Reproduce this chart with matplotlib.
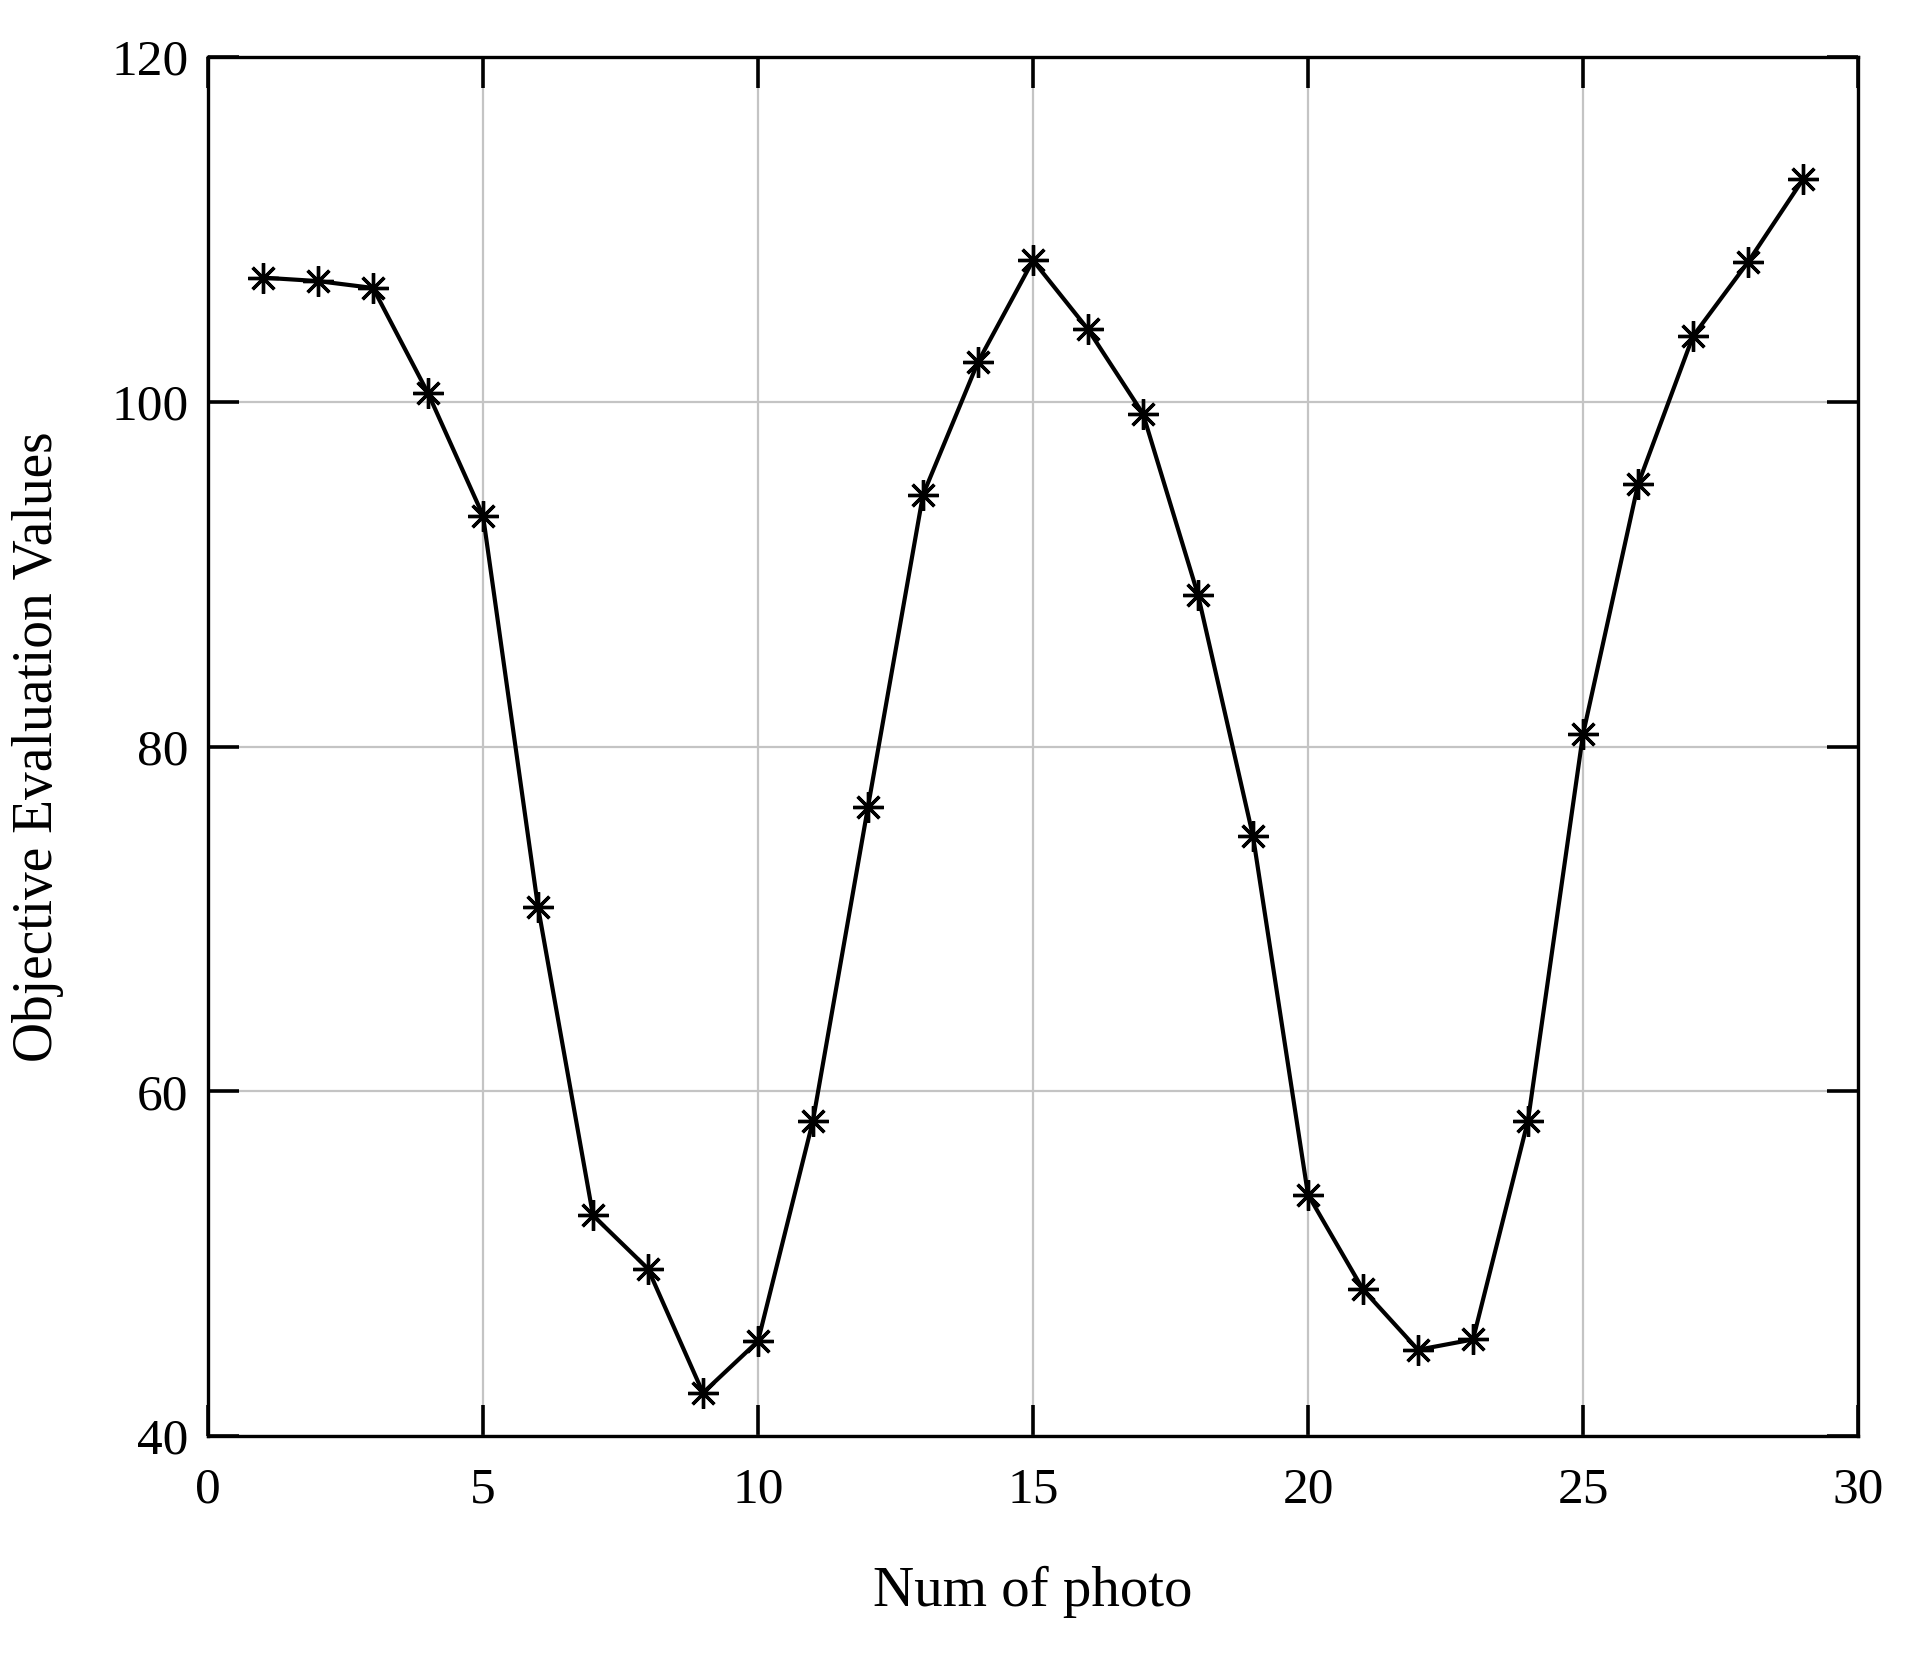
# objective evaluation values per photo
import matplotlib.pyplot as plt

photo_num = list(range(1, 30))
eval_values = [107.2, 107.0, 106.6, 100.5, 93.4, 70.7, 52.8, 49.7, 42.5, 45.5,
               58.3, 76.5, 94.6, 102.3, 108.2, 104.2, 99.3, 88.8, 74.8, 54.0,
               48.5, 45.0, 45.6, 58.3, 80.7, 95.2, 103.8, 108.1, 112.9]

x_ticks = [0, 5, 10, 15, 20, 25, 30]
y_ticks = [40, 60, 80, 100, 120]

plt.rcParams['font.family'] = ['Liberation Serif', 'DejaVu Serif']

fig = plt.figure(figsize=(19.1, 16.55), dpi=100)
ax = fig.add_axes([208 / 1910, 1 - 1436 / 1655, 1650 / 1910, 1379 / 1655])

ax.plot(photo_num, eval_values, color='black', linewidth=3.0,
        marker=(8, 2, 0), markersize=22, markeredgewidth=2.4)

ax.set_xlim(0, 30)
ax.set_ylim(40, 120)
ax.set_xticks(x_ticks)
ax.set_yticks(y_ticks)
ax.grid(True, color='#c4c4c4', linewidth=1.6)
ax.set_axisbelow(True)

ax.tick_params(direction='in', length=22, width=2.6, labelsize=37,
               top=True, right=True)
ax.tick_params(axis='x', pad=22)
ax.tick_params(axis='y', pad=14)
for s in ax.spines.values():
    s.set_linewidth(2.4)

ax.set_xlabel('Num of photo', fontsize=41, labelpad=38)
ax.set_ylabel('Objective Evaluation Values', fontsize=40, labelpad=34)

plt.savefig('out.png', dpi=100)
